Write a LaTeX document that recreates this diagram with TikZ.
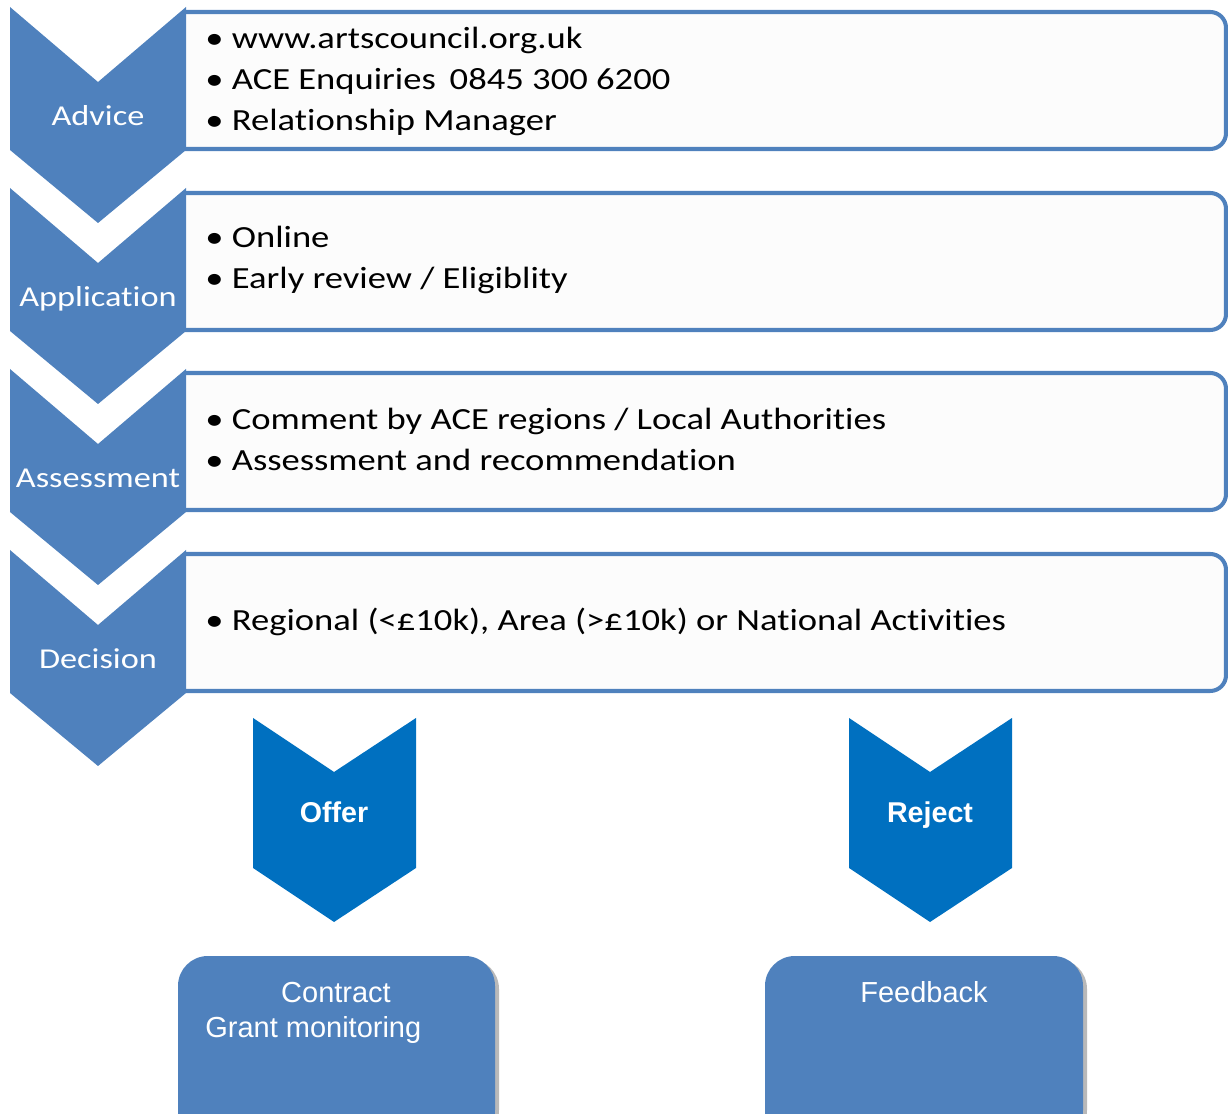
\documentclass[tikz,border=0pt]{standalone}
\usepackage{fontspec}
\setmainfont{Carlito}[FakeStretch=1.19, Ligatures=NoCommon]
\newfontfamily\arialfont{Liberation Sans}
\definecolor{stageblue}{HTML}{4F81BD}
\definecolor{outcomeblue}{HTML}{0070C0}
\definecolor{panelfill}{HTML}{FCFCFC}
\tikzset{stage/.style = {fill=stageblue}}
\tikzset{stagelabel/.style = {text=white, anchor=base, inner sep=0pt, font=\fontsize{16.4}{19}\selectfont}}
\tikzset{panel/.style = {draw=stageblue, fill=panelfill, line width=2.3pt, rounded corners=9pt}}
\tikzset{bulletline/.style = {anchor=base west, inner sep=0pt, font=\fontsize{17.5}{21}\selectfont}}
\tikzset{outcome/.style = {fill=outcomeblue}}
\tikzset{outcomelabel/.style = {text=white, anchor=base, inner sep=0pt, font=\arialfont\bfseries\fontsize{16.3}{19}\selectfont}}
\tikzset{result/.style = {fill=stageblue, rounded corners=17pt}}
\tikzset{resultlabel/.style = {text=white, anchor=base, inner sep=0pt, font=\arialfont\fontsize{16.5}{20}\selectfont}}

\begin{document}
\begin{tikzpicture}[x=0.02cm, y=-0.02cm]
    \useasboundingbox (0,0) rectangle (1228,1114);
    \clip (0,0) rectangle (1228,1114);

    % Panels
    \foreach \t in {12,193,373,554}
        \draw[panel] (184,\t) -- (1226,\t) -- (1226,\t+137) -- (184,\t+137);

    % Stages
    \foreach \t/\name/\txt in {7/advice/Advice, 188/application/Application,
                               369/assessment/Assessment, 550/decision/Decision} {
        \fill[stage] (10,\t) -- (98,\t+75) -- (186,\t) -- (186,\t+143)
            -- (98,\t+216) -- (10,\t+143) -- cycle;
        \node[stagelabel] (\name) at (98,\t+119) {\txt};
    }

    % Items
    % advice
    \node[bulletline] (adv1) at (205,49) {\textbullet\ www.artscouncil.org.uk};
    \node[bulletline] (adv2) at (205,90) {\textbullet\ ACE Enquiries\hspace{0.45em}0845 300 6200};
    \node[bulletline] (adv3) at (205,131) {\textbullet\ Relationship Manager};

    % application
    \node[bulletline] (app1) at (205,248) {\textbullet\ Online};
    \node[bulletline] (app2) at (205,289) {\textbullet\ Early review / Eligiblity};

    % assessment
    \node[bulletline] (ass1) at (205,430) {\textbullet\ Comment by ACE regions / Local Authorities};
    \node[bulletline] (ass2) at (205,471) {\textbullet\ Assessment and recommendation};

    % decision
    \node[bulletline] (dec1) at (205,631) {\textbullet\ Regional (<£10k), Area (>£10k) or National Activities};

    % Outcomes
    \foreach \x/\name/\txt in {334/offer/Offer, 930/reject/Reject} {
        \fill[outcome] (\x-81,718) -- (\x,772) -- (\x+82,718) -- (\x+82,868)
            -- (\x,922) -- (\x-81,868) -- cycle;
        \node[outcomelabel] (\name) at (\x,823) {\txt};
    }

    % Results
    \fill[gray!55, rounded corners=17pt] (181,959) rectangle (499,1140);
    \fill[result] (178,956) rectangle (495,1140);
    \fill[gray!55, rounded corners=17pt] (768,959) rectangle (1087,1140);
    \fill[result] (765,956) rectangle (1083,1140);

    \node[resultlabel] (contract) at (336,1002) {Contract};
    \node[resultlabel, anchor=base west] (grant) at (205,1037) {Grant monitoring};
    \node[resultlabel] (feedback) at (924,1002) {Feedback};

\end{tikzpicture}
\end{document}
